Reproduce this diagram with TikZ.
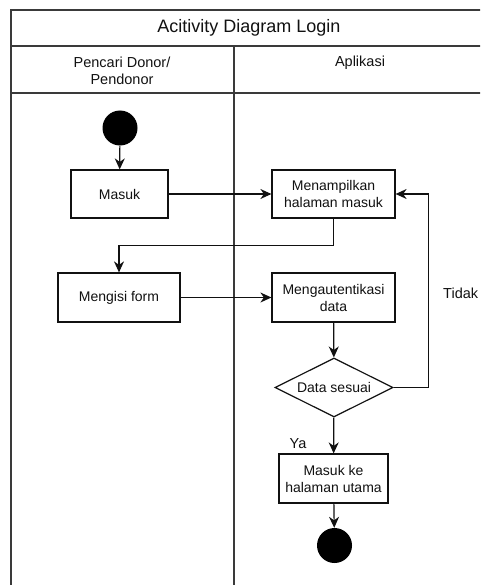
\documentclass[tikz,border=0pt]{standalone}
\usepackage{fontspec}
\setmainfont{Liberation Sans}
\usetikzlibrary{arrows.meta,positioning,shapes.geometric}
\definecolor{cLine}{HTML}{111111}
\definecolor{cFrame}{HTML}{3A3A3A}
\definecolor{cText}{HTML}{111111}
\tikzset{
  act/.style={draw=cLine, line width=1.2pt, fill=white, minimum height=48pt,
              inner sep=2pt, font=\fontsize{14}{17}\selectfont, text=cText, align=center},
  decide/.style={diamond, aspect=2, draw=cLine, line width=1.2pt, fill=white,
                 minimum width=118pt, minimum height=59pt, inner sep=0pt,
                 font=\fontsize{14}{17}\selectfont, text=cText},
  dot/.style={circle, fill=black, minimum size=35pt, inner sep=0pt},
  arr/.style={-{Stealth[length=11pt, width=10pt, inset=3.5pt]}, line width=1.2pt, cLine},
  lane/.style={line width=1.5pt, draw=cFrame},
  lbl/.style={font=\fontsize{14.5}{17.5}\selectfont, text=cText, inner sep=0pt},
  ttl/.style={font=\fontsize{18}{21}\selectfont, text=cText, inner sep=0pt}
}

\begin{document}
\begin{tikzpicture}[x=1pt, y=-1pt]
\useasboundingbox (0,0) rectangle (480,585);
\clip (0,0) rectangle (480,585);
% ----- swimlanes -----
\draw[lane] (11,10) rectangle (487,600);
\draw[lane] (11,46) -- (487,46);
\draw[lane] (11,93) -- (487,93);
\draw[lane] (234,46) -- (234,600);
\node[ttl] (title) at (249,28) {Acitivity Diagram Login};
\node[lbl, align=center] (laneA) at (122,71) {Pencari Donor/\\Pendonor};
\node[lbl] (laneB) at (360,63) {Aplikasi};
% ----- actor lane -----
\node[dot] (start) at (120,128) {};
\node[act, minimum width=97pt] (masuk) at (119.5,194) {Masuk};
\node[act, minimum width=122pt, minimum height=49pt] (isi) at (119,297.5) {Mengisi form};
% ----- application lane -----
\node[act, minimum width=123pt] (tampil) at (333.5,194) {Menampilkan\\halaman masuk};
\node[act, minimum width=123pt, minimum height=49pt] (auth) at (333.5,297.5) {Mengautentikasi\\data};
\node[decide] (cek) at (334,387.5) {Data sesuai};
\node[act, minimum width=109pt, minimum height=49pt] (utama) at (333.5,478.5) {Masuk ke\\halaman utama};
\node[dot] (stop) at (334.5,545.5) {};
% ----- flows -----
\draw[arr] (start) -- (masuk);
\draw[arr] (masuk) -- (tampil);
\draw[arr] (tampil.south) -- ++(0,27) -| (isi.north);
\draw[arr] (isi) -- (auth);
\draw[arr] (auth) -- (cek);
\draw[arr] (cek.east) -- ++(35,0) |- (tampil.east);
\draw[arr] (cek) -- (utama);
\draw[arr] (utama) -- (stop);
\node[lbl, anchor=west] (tidak) at (443,293) {Tidak};
\node[lbl] (ya) at (298,444) {Ya};
\end{tikzpicture}
\end{document}
